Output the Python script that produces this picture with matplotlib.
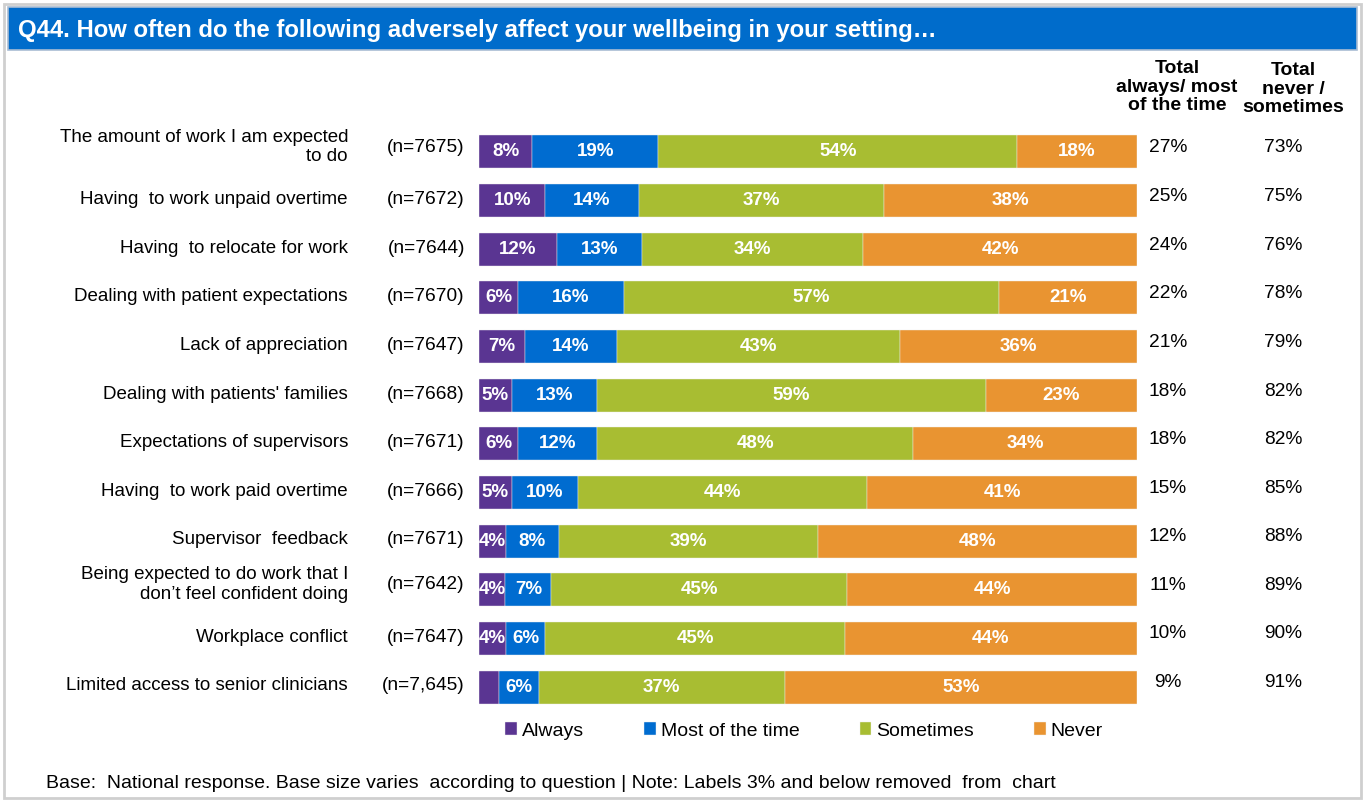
import matplotlib
matplotlib.use("Agg")
import matplotlib.pyplot as plt
from matplotlib.patches import Rectangle
import numpy as np

plt.rcParams['font.family'] = ['Liberation Sans', 'DejaVu Sans']

categories = [
    "The amount of work I am expected\nto do",
    "Having  to work unpaid overtime",
    "Having  to relocate for work",
    "Dealing with patient expectations",
    "Lack of appreciation",
    "Dealing with patients' families",
    "Expectations of supervisors",
    "Having  to work paid overtime",
    "Supervisor  feedback",
    "Being expected to do work that I\ndon\u2019t feel confident doing",
    "Workplace conflict",
    "Limited access to senior clinicians",
]
base_n = ["(n=7675)", "(n=7672)", "(n=7644)", "(n=7670)", "(n=7647)", "(n=7668)",
          "(n=7671)", "(n=7666)", "(n=7671)", "(n=7642)", "(n=7647)", "(n=7,645)"]
always = [8, 10, 12, 6, 7, 5, 6, 5, 4, 4, 4, 3]
most = [19, 14, 13, 16, 14, 13, 12, 10, 8, 7, 6, 6]
sometimes = [54, 37, 34, 57, 43, 59, 48, 44, 39, 45, 45, 37]
never = [18, 38, 42, 21, 36, 23, 34, 41, 48, 44, 44, 53]
total_always_most = ["27%", "25%", "24%", "22%", "21%", "18%", "18%", "15%", "12%", "11%", "10%", "9%"]
total_never_some = ["73%", "75%", "76%", "78%", "79%", "82%", "82%", "85%", "88%", "89%", "90%", "91%"]
series_names = ["Always", "Most of the time", "Sometimes", "Never"]
colors = ["#5A3592", "#006CD0", "#A8BD32", "#E99431"]

W, H = 1365, 802
fig = plt.figure(figsize=(W / 100, H / 100), dpi=100)

def fx(px):
    return px / W

def fy(py):
    return 1 - py / H

# outer frame
fig.patches.append(Rectangle((fx(4), fy(798)), fx(1357), 794 / H, transform=fig.transFigure,
                             fill=False, edgecolor="#CFCFCF", linewidth=2))
# title bar
fig.patches.append(Rectangle((fx(8), fy(50)), fx(1349), 43 / H, transform=fig.transFigure,
                             facecolor="#006CCB", edgecolor="#A9BCD3", linewidth=1.2))
fig.text(fx(18), fy(30), "Q44. How often do the following adversely affect your wellbeing in your setting\u2026",
         color="white", fontsize=17.2, fontweight="bold", va="center", ha="left")

ax = fig.add_axes([fx(479), fy(711.5), fx(1137) - fx(479), (711.5 - 127.5) / H])
n = len(categories)
y = np.arange(n)
data = np.array([always, most, sometimes, never], dtype=float)
totals = data.sum(axis=0)
widths = data / totals * 100
left = np.zeros(n)
for k in range(4):
    ax.barh(y, widths[k], left=left, height=0.68, color=colors[k], edgecolor="#F0F0F0",
            linewidth=0.3, label=series_names[k])
    for i in range(n):
        if data[k, i] > 3:
            ax.text(left[i] + widths[k, i] / 2, y[i], f"{int(data[k, i])}%", ha="center",
                    va="center", color="white", fontsize=13.5, fontweight="bold")
    left += widths[k]
ax.set_xlim(0, 100)
ax.set_ylim(n - 0.5, -0.5)
ax.axis("off")

for i in range(n):
    yc = fy(152 + i * 48.6)
    two_line = "\n" in categories[i]
    ly = yc + (5 / H if two_line else 1 / H)
    fig.text(fx(348), ly, categories[i], ha="right", va="center", fontsize=13.5,
             multialignment="right", linespacing=1.2)
    fig.text(fx(465), ly, base_n[i], ha="right", va="center", fontsize=13.8)
    fig.text(fx(1168), yc + 4 / H, total_always_most[i], ha="center", va="center", fontsize=13.8)
    fig.text(fx(1283), yc + 4 / H, total_never_some[i], ha="center", va="center", fontsize=13.8)

fig.text(fx(1177), fy(87), "Total\nalways/ most\nof the time", ha="center", va="center",
         fontsize=14, fontweight="bold", linespacing=1.15)
fig.text(fx(1293), fy(89), "Total\nnever /\nsometimes", ha="center", va="center",
         fontsize=14, fontweight="bold", linespacing=1.15)

handles, labels = ax.get_legend_handles_labels()
fig.legend(handles, labels, loc="center", bbox_to_anchor=(fx(804), fy(731)), ncol=4,
           frameon=False, fontsize=14, handlelength=0.6, handleheight=0.6,
           handletextpad=0.25, columnspacing=3.1)

fig.text(fx(46), fy(784), "Base:  National response. Base size varies  according to question | Note: Labels 3% and below removed  from  chart",
         ha="left", va="center", fontsize=14)

fig.savefig("out.png", dpi=100)
